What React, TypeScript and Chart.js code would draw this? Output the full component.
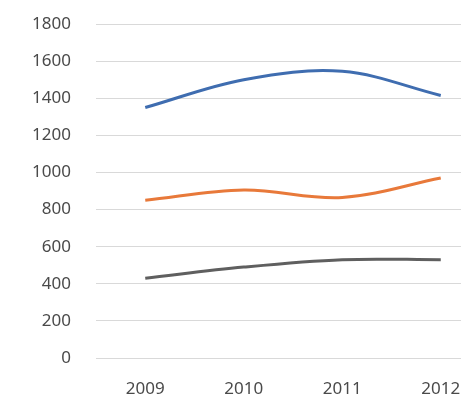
import React, { useEffect, useRef } from "react";
import { Chart, registerables } from "chart.js";

Chart.register(...registerables);

const categories = ["2009", "2010", "2011", "2012"];
const seriesBlue = [1350, 1500, 1545, 1415];
const seriesOrange = [850, 905, 865, 970];
const seriesGray = [430, 490, 530, 530];
const yTicks = [0, 200, 400, 600, 800, 1000, 1200, 1400, 1600, 1800];

export default function App() {
  const ref = useRef<HTMLCanvasElement | null>(null);
  useEffect(() => {
    document.body.style.margin = "0";
    const ctx = ref.current!;
    const chart = new Chart(ctx, {
      type: "line",
      data: {
        labels: categories,
        datasets: [
          { data: seriesBlue, borderColor: "#3f6db0", borderWidth: 3, pointRadius: 0, tension: 0.35 },
          { data: seriesOrange, borderColor: "#e8793a", borderWidth: 3, pointRadius: 0, tension: 0.35 },
          { data: seriesGray, borderColor: "#5f5f5f", borderWidth: 3, pointRadius: 0, tension: 0.35 },
        ],
      },
      options: {
        responsive: false,
        animation: false,
        layout: { padding: { top: 24, bottom: 0, left: 0, right: 0 } },
        plugins: { legend: { display: false }, tooltip: { enabled: false } },
        scales: {
          x: {
            offset: true,
            grid: { display: false, drawTicks: false },
            border: { display: false },
            ticks: { padding: 21, color: "#4a4a4a", font: { family: "Noto Sans", size: 17 }, maxRotation: 0, autoSkip: false },
            afterFit: (s: any) => { s.height = 52; s.paddingLeft = 0; s.paddingRight = 0; },
          },
          y: {
            min: 0,
            max: 1800,
            afterBuildTicks: (s: any) => { s.ticks = yTicks.map((v) => ({ value: v })); },
            grid: { color: "#d9d9d9", drawTicks: false, lineWidth: 1 },
            border: { display: false },
            ticks: { padding: 25, color: "#4a4a4a", font: { family: "Noto Sans", size: 17 }, callback: (v: any) => String(v) },
            afterFit: (s: any) => { s.width = 96; s.paddingTop = 0; s.paddingBottom = 0; },
          },
        },
      },
    } as any);
    return () => chart.destroy();
  }, []);
  return (
    <div style={{ width: 461, height: 410, overflow: "hidden", background: "#fff" }}>
      <canvas ref={ref} width={490} height={410} style={{ display: "block" }} />
    </div>
  );
}
